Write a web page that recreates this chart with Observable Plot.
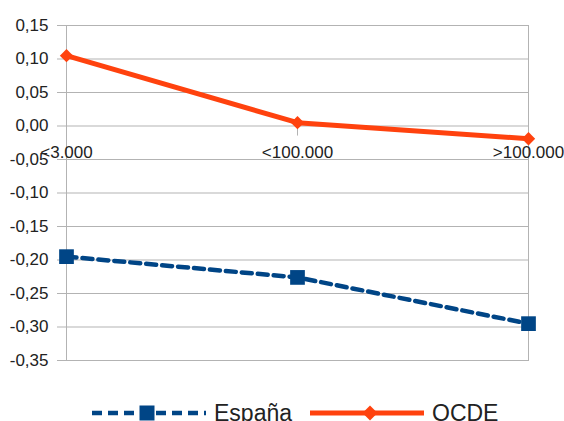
<!DOCTYPE html>
<html>
<head>
<meta charset="utf-8">
<script src="https://cdn.jsdelivr.net/npm/d3@7"></script>
<script src="https://cdn.jsdelivr.net/npm/@observablehq/plot@0.6"></script>
<style>
  html, body { margin: 0; padding: 0; background: #fff; overflow: hidden; }
  #wrap { position: relative; width: 564px; height: 421px; font-family: "Liberation Sans", Arial, sans-serif; }
  #legend { position: absolute; left: 0; top: 385px; width: 564px; height: 36px; }
  .item { position: absolute; top: 0; height: 56px; display: flex; align-items: center; }
  .item span { font-size: 23px; color: #222; margin-left: 8px; line-height: 1; }
</style>
</head>
<body>
<div id="wrap">
  <div id="chart"></div>
  <div id="legend"></div>
</div>
<script>
const categories = ["<3.000", "<100.000", ">100.000"];
const espana = [-0.195, -0.226, -0.295];
const ocde = [0.105, 0.005, -0.019];
const yTicks = [0.15, 0.10, 0.05, 0.00, -0.05, -0.10, -0.15, -0.20, -0.25, -0.30, -0.35];
const seriesNames = ["España", "OCDE"];
const colors = ["#004586", "#ff420e"];

const espData = categories.map((c, i) => ({cat: c, v: espana[i]}));
const ocdeData = categories.map((c, i) => ({cat: c, v: ocde[i]}));
const fmt = d => d.toFixed(2).replace(".", ",");
const grid = "#b3b3b3";

const chart = Plot.plot({
  width: 564,
  height: 385,
  marginLeft: 66,
  marginRight: 36,
  marginTop: 25,
  marginBottom: 25,
  style: {fontFamily: "'Liberation Sans', Arial, sans-serif", fontSize: "17px", color: "#222", background: "#fff"},
  x: {type: "point", domain: categories, padding: 0, axis: null},
  y: {domain: [-0.35, 0.15], axis: null},
  marks: [
    Plot.gridY(yTicks, {stroke: grid, strokeOpacity: 1, strokeWidth: 1}),
    Plot.axisY(yTicks, {tickFormat: fmt, tickSize: 9, tickPadding: 9, stroke: grid, strokeOpacity: 1, fill: "#222", fontSize: 17, label: null}),
    Plot.frame({stroke: grid, strokeWidth: 1}),
    Plot.ruleX(categories, {x: d => d, y1: 0.004, y2: -0.015, stroke: grid, strokeWidth: 1}),
    Plot.text(categories, {x: d => d, y: () => 0, dy: 27, fill: "#222", fontSize: 17}),
    Plot.line(espData, {x: "cat", y: "v", stroke: colors[0], strokeWidth: 4.5, strokeDasharray: "10,6"}),
    Plot.dot(espData, {x: "cat", y: "v", symbol: "square", r: 8.3, fill: colors[0], stroke: "none"}),
    Plot.line(ocdeData, {x: "cat", y: "v", stroke: colors[1], strokeWidth: 5}),
    Plot.dot(ocdeData, {x: "cat", y: "v", symbol: "diamond2", r: 6, fill: colors[1], stroke: "none"})
  ]
});
document.getElementById("chart").appendChild(chart);

// Legend
const legend = document.getElementById("legend");
const items = [
  {left: 92, name: seriesNames[0], color: colors[0], dash: "10,6", symbol: "square"},
  {left: 310, name: seriesNames[1], color: colors[1], dash: null, symbol: "diamond"}
];
items.forEach(it => {
  const div = document.createElement("div");
  div.className = "item";
  div.style.left = it.left + "px";
  const ns = "http://www.w3.org/2000/svg";
  const svg = document.createElementNS(ns, "svg");
  svg.setAttribute("width", 114);
  svg.setAttribute("height", 20);
  const line = document.createElementNS(ns, "line");
  line.setAttribute("x1", 0); line.setAttribute("x2", 114);
  line.setAttribute("y1", 10); line.setAttribute("y2", 10);
  line.setAttribute("stroke", it.color);
  line.setAttribute("stroke-width", it.dash ? 4.5 : 5);
  if (it.dash) line.setAttribute("stroke-dasharray", it.dash);
  svg.appendChild(line);
  if (it.symbol === "square") {
    const r = document.createElementNS(ns, "rect");
    r.setAttribute("x", 55 - 7.5); r.setAttribute("y", 10 - 7.5);
    r.setAttribute("width", 15); r.setAttribute("height", 15);
    r.setAttribute("fill", it.color);
    svg.appendChild(r);
  } else {
    const p = document.createElementNS(ns, "path");
    p.setAttribute("d", "M60,2.5L67.5,10L60,17.5L52.5,10Z");
    p.setAttribute("fill", it.color);
    svg.appendChild(p);
  }
  div.appendChild(svg);
  const span = document.createElement("span");
  span.textContent = it.name;
  div.appendChild(span);
  legend.appendChild(div);
});
</script>
</body>
</html>
